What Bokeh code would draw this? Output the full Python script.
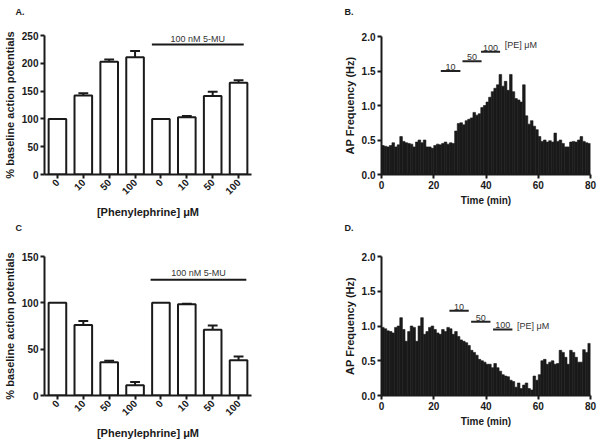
import numpy as np
from math import pi
from bokeh.plotting import figure
from bokeh.layouts import column, row
from bokeh.models import Range1d, FixedTicker, Label, NumeralTickFormatter, Title
from bokeh.core.properties import value
from bokeh.embed import file_html
from bokeh.resources import INLINE

# ---------------- data ----------------
dose_labels = ["0", "10", "50", "100", "0", "10", "50", "100"]
a_values = [100, 142, 203, 211, 100, 103, 141, 165]
a_errors = [0, 4, 4, 11, 0, 2, 8, 4.5]
c_values = [100, 76, 36, 11, 100, 98.5, 71, 38]
c_errors = [0, 4.5, 1.5, 3.5, 0, 0.5, 4.5, 4]
mu_text = "100 nM 5-MU"
a_mu_span = [4.65, 8.2]
a_mu_level = 234
c_mu_span = [4.6, 8.3]
c_mu_level = 125

bin_start = list(range(80))   # minutes
bin_width = 1.0
b_freq = [0.42, 0.41, 0.40, 0.42, 0.46, 0.40, 0.43, 0.55, 0.48, 0.46,
          0.45, 0.44, 0.40, 0.47, 0.50, 0.46, 0.50, 0.40, 0.40, 0.38,
          0.42, 0.44, 0.43, 0.45, 0.47, 0.44, 0.46, 0.45, 0.63, 0.74,
          0.75, 0.72, 0.78, 0.80, 0.82, 0.90, 0.86, 0.88, 0.97, 1.00,
          1.05, 1.12, 1.20, 1.25, 1.30, 1.45, 1.28, 1.35, 1.22, 1.45,
          1.20, 1.10, 1.08, 1.05, 1.30, 0.85, 0.73, 0.78, 0.70, 0.65,
          0.55, 0.48, 0.50, 0.47, 0.49, 0.47, 0.60, 0.48, 0.50, 0.45,
          0.40, 0.40, 0.47, 0.48, 0.47, 0.50, 0.55, 0.48, 0.46, 0.45]
d_freq = [0.98, 0.96, 0.93, 0.92, 0.90, 0.98, 1.00, 1.12, 0.95, 0.78,
          0.92, 1.00, 0.98, 0.78, 1.00, 1.12, 0.88, 0.92, 0.98, 1.00,
          0.95, 0.90, 0.88, 0.95, 0.92, 0.98, 0.96, 0.88, 0.92, 0.85,
          0.80, 0.78, 0.76, 0.72, 0.65, 0.62, 0.58, 0.52, 0.50, 0.48,
          0.45, 0.45, 0.40, 0.46, 0.40, 0.35, 0.30, 0.28, 0.27, 0.22,
          0.20, 0.12, 0.18, 0.10, 0.15, 0.18, 0.10, 0.08, 0.28, 0.22,
          0.30, 0.50, 0.52, 0.45, 0.48, 0.50, 0.45, 0.46, 0.65, 0.62,
          0.55, 0.45, 0.65, 0.62, 0.55, 0.48, 0.48, 0.66, 0.62, 0.75]

pe_doses = ["10", "50", "100"]
pe_unit = "[PE] μM"
b_pe_start = [22.7, 31.0, 38.1]
b_pe_end = [30.2, 38.3, 45.4]
b_pe_level = [1.50, 1.64, 1.78]
d_pe_start = [26.0, 34.3, 42.7]
d_pe_end = [33.4, 41.7, 50.1]
d_pe_level = [1.22, 1.06, 0.95]

panel_letters = ["A.", "B.", "C", "D."]

FONT = "Liberation Sans"
INK = "#1a1a1a"


def style(p):
    p.outline_line_color = None
    p.xgrid.visible = False
    p.ygrid.visible = False
    p.background_fill_color = "white"
    p.border_fill_color = "white"
    for ax in p.axis:
        ax.axis_line_width = 2
        ax.axis_line_color = INK
        ax.major_tick_line_width = 2
        ax.major_tick_line_color = INK
        ax.major_tick_out = 4
        ax.major_tick_in = 0
        ax.minor_tick_line_color = None
        ax.major_label_text_font = FONT
        ax.major_label_text_font_style = "bold"
        ax.major_label_text_font_size = "10px"
        ax.major_label_text_color = INK
        ax.axis_label_text_font = FONT
        ax.axis_label_text_font_style = "bold"
        ax.axis_label_text_font_size = "11px"
        ax.axis_label_text_color = INK
        ax.major_label_standoff = 2
        ax.axis_label_standoff = 3


def letter_strip(txt, offset, strip_h):
    # thin strip whose frame is aligned with the panel below; the letter sits in its title
    s = figure(width=300, height=strip_h, x_range=Range1d(0, 1), y_range=Range1d(0, 1),
               x_axis_type=None, y_axis_type=None, output_backend="svg",
               toolbar_location=None, min_border_top=strip_h - 1, min_border_bottom=0)
    s.outline_line_color = None
    s.xgrid.visible = False
    s.ygrid.visible = False
    s.background_fill_color = "white"
    s.border_fill_color = "white"
    s.add_layout(Title(text=txt, align="left", vertical_align="top", offset=offset,
                       standoff=4, text_font=FONT, text_font_style="bold",
                       text_font_size="9px", text_color=INK), "above")
    return s


def bar_panel(values, errors, ymax, yticks, mu_span, mu_level, mu_text_y,
              height, left, top, bottom):
    n = len(values)
    x = np.arange(1, n + 1)
    p = figure(width=300, height=height, x_range=Range1d(0.5, n + 0.5),
               y_range=Range1d(0, ymax), output_backend="svg", toolbar_location=None,
               min_border_left=left, min_border_right=300 - left - 209, min_border_top=top,
               min_border_bottom=bottom)
    p.vbar(x=x, top=values, bottom=0, width=0.68, fill_color="white",
           line_color=INK, line_width=2)
    vals = np.array(values, dtype=float)
    errs = np.array(errors, dtype=float)
    m = errs > 0
    tops = vals + errs
    p.segment(x0=x[m], y0=vals[m], x1=x[m], y1=tops[m], line_color=INK, line_width=2)
    p.segment(x0=x[m] - 0.19, y0=tops[m], x1=x[m] + 0.19, y1=tops[m],
              line_color=INK, line_width=2)
    p.segment(x0=[mu_span[0]], y0=[mu_level], x1=[mu_span[1]], y1=[mu_level],
              line_color=INK, line_width=2)
    p.add_layout(Label(x=sum(mu_span) / 2, y=mu_text_y, text=mu_text,
                       text_font=FONT, text_font_size="9px", text_color="#333333",
                       text_align="center", text_baseline="middle"))
    p.xaxis.ticker = FixedTicker(ticks=[int(v) for v in x])
    p.xaxis.major_label_overrides = {int(v): lab for v, lab in zip(x, dose_labels)}
    p.xaxis.major_label_orientation = pi / 4
    p.yaxis.ticker = FixedTicker(ticks=yticks)
    p.xaxis.axis_label = "[Phenylephrine] μM"
    p.yaxis.axis_label = "% baseline action potentials"
    style(p)
    p.xaxis.axis_label_standoff = 5
    return p


def trace_panel(freq, pe_start, pe_end, pe_level, unit_xy, height, top, bottom):
    p = figure(width=300, height=height, x_range=Range1d(0, 80), y_range=Range1d(0, 2.0),
               output_backend="svg", toolbar_location=None,
               min_border_left=81, min_border_right=10, min_border_top=top,
               min_border_bottom=bottom)
    left = np.array(bin_start, dtype=float)
    p.quad(left=left, right=left + bin_width, bottom=0, top=freq,
           fill_color=INK, line_color=INK, line_width=0.6)
    p.segment(x0=pe_start, y0=pe_level, x1=pe_end, y1=pe_level,
              line_color="#222222", line_width=2)
    mids = [(s + e) / 2 for s, e in zip(pe_start, pe_end)]
    p.text(x=mids, y=[v + 0.015 for v in pe_level], text=pe_doses,
           text_font=value(FONT), text_font_size="9px", text_color="#333333",
           text_align="center", text_baseline="bottom")
    p.add_layout(Label(x=unit_xy[0], y=unit_xy[1], text=pe_unit, text_font=FONT,
                       text_font_size="9px", text_color="#333333",
                       text_align="left", text_baseline="middle"))
    p.xaxis.ticker = FixedTicker(ticks=[0, 20, 40, 60, 80])
    p.yaxis.ticker = FixedTicker(ticks=[0, 0.5, 1.0, 1.5, 2.0])
    p.yaxis.formatter = NumeralTickFormatter(format="0.0")
    p.xaxis.axis_label = "Time (min)"
    p.yaxis.axis_label = "AP Frequency (Hz)"
    style(p)
    p.xaxis.axis_label_text_font_size = "10px"
    return p


# row 1: strip 21 + panel 199 = 220 ; row 2: strip 17 + panel 205 = 222
pA = bar_panel(a_values, a_errors, 250, [0, 50, 100, 150, 200, 250], a_mu_span, a_mu_level,
               244, 199, 42, 14, 46)
pB = trace_panel(b_freq, b_pe_start, b_pe_end, b_pe_level, (47.2, 1.87), 199, 15, 46)
pC = bar_panel(c_values, c_errors, 150, [0, 50, 100, 150], c_mu_span, c_mu_level,
               132, 205, 42, 19, 47)
pD = trace_panel(d_freq, d_pe_start, d_pe_end, d_pe_level, (51.9, 1.0), 205, 19, 47)

sA = letter_strip(panel_letters[0], -29, 21)
sB = letter_strip(panel_letters[1], -37, 21)
sC = letter_strip(panel_letters[2], -29, 17)
sD = letter_strip(panel_letters[3], -37, 17)

layout = column(
    row(column(sA, pA, spacing=0), column(sB, pB, spacing=0), spacing=0),
    row(column(sC, pC, spacing=0), column(sD, pD, spacing=0), spacing=0),
    spacing=0)

open("out.html", "w").write(file_html(layout, INLINE))
